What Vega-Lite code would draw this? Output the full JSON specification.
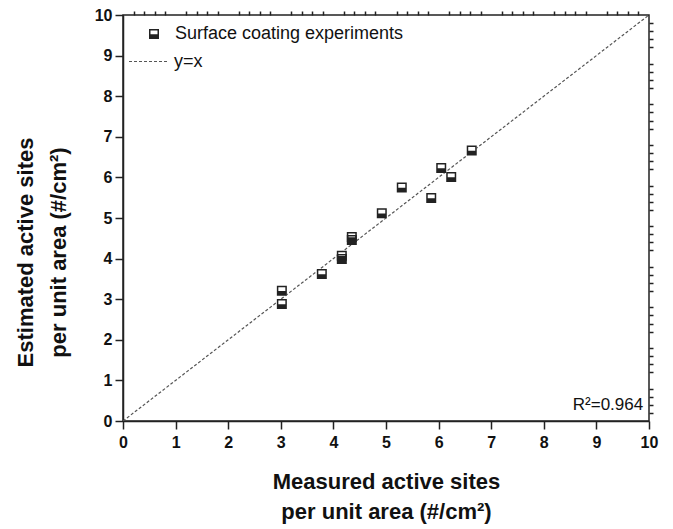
{
  "$schema": "https://vega.github.io/schema/vega-lite/v6.json",
  "width": 526,
  "height": 406,
  "autosize": {"type": "none"},
  "padding": {"left": 123, "top": 15, "right": 24, "bottom": 108},
  "background": "white",
  "config": {
    "view": {"stroke": "#222", "strokeWidth": 1.5},
    "font": "Liberation Sans",
    "axis": {
      "domainColor": "#222", "domainWidth": 1.5, "tickColor": "#222", "tickWidth": 1.5,
      "grid": false, "labelFont": "Liberation Sans", "labelFontWeight": "bold", "labelFontSize": 16,
      "labelColor": "#111", "titleFont": "Liberation Sans", "titleFontWeight": "bold",
      "titleFontSize": 22, "titleColor": "#111", "labelFlush": false, "labelOverlap": false, "titleLimit": 0
    }
  },
  "datasets": {
    "points": [
      {"measured": 3.02, "estimated": 3.21},
      {"measured": 3.02, "estimated": 2.88},
      {"measured": 3.78, "estimated": 3.62},
      {"measured": 4.16, "estimated": 4.07},
      {"measured": 4.16, "estimated": 3.99},
      {"measured": 4.35, "estimated": 4.53},
      {"measured": 4.35, "estimated": 4.46},
      {"measured": 4.92, "estimated": 5.12},
      {"measured": 5.30, "estimated": 5.75},
      {"measured": 5.86, "estimated": 5.49},
      {"measured": 6.05, "estimated": 6.23},
      {"measured": 6.24, "estimated": 6.01},
      {"measured": 6.63, "estimated": 6.66}
    ],
    "diag": [{"measured": 0, "estimated": 0}, {"measured": 10, "estimated": 10}],
    "note": [{"label": "R²=0.964"}]
  },
  "resolve": {"axis": {"x": "independent", "y": "independent"}},
  "layer": [
    {
      "data": {"name": "diag"},
      "mark": {"type": "line", "color": "#555", "strokeWidth": 1.2, "clip": true},
      "encoding": {
        "x": {"field": "measured", "type": "quantitative", "scale": {"domain": [0, 10], "nice": false},
          "axis": {"values": [0,1,2,3,4,5,6,7,8,9,10], "tickSize": 8, "labelPadding": 5,
            "title": ["Measured active sites", "per unit area (#/cm²)"], "titleLineHeight": 30,
            "titleBaseline": "alphabetic", "titleY": 67}},
        "y": {"field": "estimated", "type": "quantitative", "scale": {"domain": [0, 10], "nice": false},
          "axis": {"values": [0,1,2,3,4,5,6,7,8,9,10], "tickSize": 8, "labelPadding": 3,
            "title": ["Estimated active sites", "per unit area (#/cm²)"], "titleLineHeight": 33,
            "titleAngle": -90, "titleBaseline": "alphabetic", "titleX": -91, "titleY": 237}},
        "strokeDash": {"datum": "y=x", "type": "nominal", "scale": {"domain": ["y=x"], "range": [[3, 2]]},
          "legend": {"title": null, "orient": "none", "legendX": 5, "legendY": 26, "padding": 0,
            "labelFont": "Liberation Sans", "labelFontSize": 18, "labelColor": "#111", "labelOffset": 5,
            "labelLimit": 0, "symbolType": "stroke", "symbolSize": 1521, "symbolStrokeColor": "#555",
            "symbolStrokeWidth": 1.2, "symbolDash": [3, 2]}}
      }
    },
    {
      "data": {"name": "points"},
      "mark": {"type": "point", "opacity": 0},
      "encoding": {
        "x": {"field": "measured", "type": "quantitative",
          "axis": {"values": [0.2,0.4,0.6,0.8,1.2,1.4,1.6,1.8,2.2,2.4,2.6,2.8,3.2,3.4,3.6,3.8,4.2,4.4,4.6,4.8,5.2,5.4,5.6,5.8,6.2,6.4,6.6,6.8,7.2,7.4,7.6,7.8,8.2,8.4,8.6,8.8,9.2,9.4,9.6,9.8],
            "tickSize": 4, "labels": false, "domain": false, "title": null}},
        "y": {"field": "estimated", "type": "quantitative",
          "axis": {"values": [0.2,0.4,0.6,0.8,1.2,1.4,1.6,1.8,2.2,2.4,2.6,2.8,3.2,3.4,3.6,3.8,4.2,4.4,4.6,4.8,5.2,5.4,5.6,5.8,6.2,6.4,6.6,6.8,7.2,7.4,7.6,7.8,8.2,8.4,8.6,8.8,9.2,9.4,9.6,9.8],
            "tickSize": 4, "labels": false, "domain": false, "title": null}}
      }
    },
    {
      "data": {"name": "points"},
      "mark": {"type": "point", "shape": "square", "filled": true, "color": "white", "opacity": 1, "size": 100},
      "encoding": {
        "x": {"field": "measured", "type": "quantitative", "axis": null},
        "y": {"field": "estimated", "type": "quantitative", "axis": null}
      }
    },
    {
      "data": {"name": "points"},
      "mark": {"type": "point", "filled": true, "color": "#222", "opacity": 1, "size": 100},
      "encoding": {
        "x": {"field": "measured", "type": "quantitative", "axis": null},
        "y": {"field": "estimated", "type": "quantitative", "axis": null},
        "shape": {"datum": "Surface coating experiments", "type": "nominal",
          "scale": {"domain": ["Surface coating experiments"], "range": ["M-1,-1H1V1H-1Z M-0.7,-0.7V0.05H0.7V-0.7Z"]},
          "legend": {"title": null, "orient": "none", "legendX": 22, "legendY": 10, "padding": 0,
            "labelFont": "Liberation Sans", "labelFontSize": 18, "labelColor": "#111", "labelOffset": 12,
            "labelLimit": 0, "symbolFillColor": "#222", "symbolStrokeWidth": 0, "symbolSize": 100}}
      }
    },
    {
      "data": {"name": "note"},
      "mark": {"type": "text", "align": "right", "baseline": "alphabetic", "fontSize": 17, "font": "Liberation Sans", "color": "#111"},
      "encoding": {
        "x": {"datum": 9.89, "type": "quantitative", "axis": null},
        "y": {"datum": 0.26, "type": "quantitative", "axis": null},
        "text": {"field": "label", "type": "nominal"}
      }
    }
  ]
}
